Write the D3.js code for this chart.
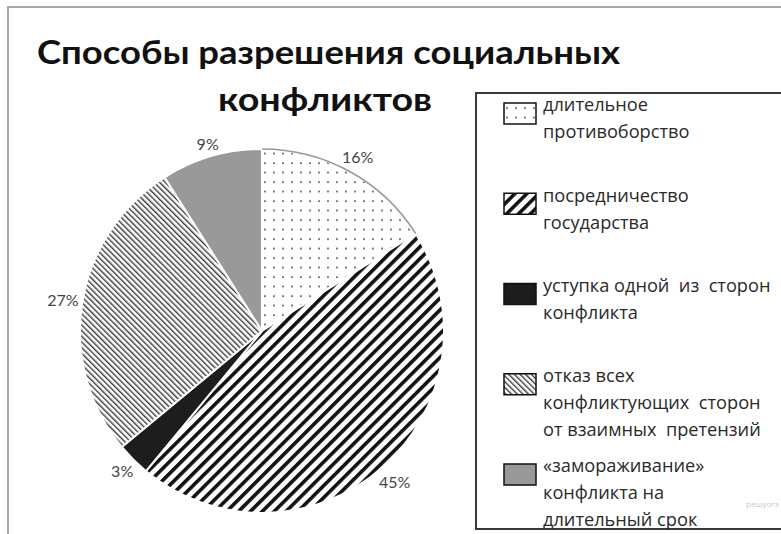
<!DOCTYPE html>
<html><head><meta charset="utf-8">
<script src="https://cdn.jsdelivr.net/npm/d3@7"></script>
<style>body{margin:0;background:#fff;overflow:hidden}</style>
</head><body>
<svg id="c" width="781" height="534"></svg>
<script>
// ---- data ----
const titleLines = ["Способы разрешения социальных", "конфликтов"];
const categories = [
  ["длительное", "противоборство"],
  ["посредничество", "государства"],
  ["уступка одной  из  сторон", "конфликта"],
  ["отказ всех", "конфликтующих  сторон", "от взаимных  претензий"],
  ["«замораживание»", "конфликта на", "длительный срок"]
];
const values = [16, 45, 3, 27, 9];
const valueLabels = ["16%", "45%", "3%", "27%", "9%"];
const watermark = "решуогэ";

// ---- drawing ----
const svg = d3.select("#c");
const defs = svg.append("defs");

// dotted pattern
const pDots = defs.append("pattern").attr("id", "dots").attr("patternUnits", "userSpaceOnUse")
  .attr("width", 9).attr("height", 9.5);
pDots.append("rect").attr("width", 9).attr("height", 9.5).attr("fill", "#fff");
pDots.append("circle").attr("cx", 3).attr("cy", 3).attr("r", 0.95).attr("fill", "#444");

// wide "/" hatch
const pWide = defs.append("pattern").attr("id", "wide").attr("patternUnits", "userSpaceOnUse")
  .attr("width", 8.4).attr("height", 8.4).attr("patternTransform", "rotate(45)");
pWide.append("rect").attr("width", 8.4).attr("height", 8.4).attr("fill", "#fff");
pWide.append("rect").attr("x", 0).attr("width", 3.6).attr("height", 8.4).attr("fill", "#111");

// fine "\" hatch
const pFine = defs.append("pattern").attr("id", "fine").attr("patternUnits", "userSpaceOnUse")
  .attr("width", 4).attr("height", 4).attr("patternTransform", "rotate(-45)");
pFine.append("rect").attr("width", 4).attr("height", 4).attr("fill", "#fff");
pFine.append("rect").attr("x", 0).attr("width", 1.4).attr("height", 4).attr("fill", "#3a3a3a");

const fills = ["url(#dots)", "url(#wide)", "#1d1d1d", "url(#fine)", "#999999"];

// outer frame
svg.append("path").attr("d", "M8,534 V7 H781").attr("fill", "none")
  .attr("stroke", "#a8a8a8").attr("stroke-width", 2);

// title
const tFont = "Lato, 'Open Sans', sans-serif";
svg.append("text").attr("x", 37).attr("y", 64)
  .attr("font-family", tFont).attr("font-weight", 700).attr("font-size", 33)
  .attr("textLength", 583).attr("lengthAdjust", "spacingAndGlyphs")
  .attr("fill", "#111").text(titleLines[0]);
svg.append("text").attr("x", 218).attr("y", 111)
  .attr("font-family", tFont).attr("font-weight", 700).attr("font-size", 33)
  .attr("textLength", 214).attr("lengthAdjust", "spacingAndGlyphs")
  .attr("fill", "#111").text(titleLines[1]);

// pie
const cx = 262, cy = 331, R = 182;
const pie = d3.pie().sort(null).value(d => d).startAngle(0).endAngle(2 * Math.PI);
const arcs = pie(values);
const arc = d3.arc().innerRadius(0).outerRadius(R);
const g = svg.append("g").attr("transform", `translate(${cx},${cy})`);
g.selectAll("path.slice").data(arcs).join("path").attr("class", "slice")
  .attr("d", arc).attr("fill", (d, i) => fills[i])
  .attr("stroke", "#fff").attr("stroke-width", 2).attr("stroke-linejoin", "round");
// gray rim on dotted slice
g.append("path").attr("d", d3.arc().innerRadius(R).outerRadius(R)(arcs[0]))
  .attr("fill", "none").attr("stroke", "#999").attr("stroke-width", 1.5);

// value labels (outside end)
const lblFont = "Lato, 'Open Sans', sans-serif";
const lbls = g.selectAll("text.lbl").data(arcs).join("text").attr("class", "lbl")
  .attr("font-family", lblFont).attr("font-size", 16).attr("fill", "#444")
  .attr("text-anchor", "middle").attr("dominant-baseline", "central")
  .text((d, i) => valueLabels[i]);
lbls.each(function (d) {
  const a = (d.startAngle + d.endAngle) / 2;
  const w = this.getComputedTextLength(), h = 14;
  const off = Math.abs(Math.sin(a)) * w / 2 + Math.abs(Math.cos(a)) * h / 2 + 3;
  const r = R + off;
  d3.select(this).attr("x", r * Math.sin(a)).attr("y", -r * Math.cos(a));
});

// legend
svg.append("rect").attr("x", 476).attr("y", 93).attr("width", 330).attr("height", 436)
  .attr("fill", "#fff").attr("stroke", "#3a3a3a").attr("stroke-width", 2);
const ly = d3.scalePoint().domain(d3.range(categories.length)).range([105, 466]);
const lgFont = "'Open Sans', 'DejaVu Sans', sans-serif";
const lg = svg.selectAll("g.leg").data(categories).join("g").attr("class", "leg")
  .attr("transform", (d, i) => `translate(0,${ly(i)})`);
lg.append("rect").attr("x", 504).attr("y", -2).attr("width", 32).attr("height", 21)
  .attr("fill", (d, i) => fills[i]).attr("stroke", "#111").attr("stroke-width", 1.5);
lg.each(function (lines) {
  const t = d3.select(this).append("text").attr("font-family", lgFont)
    .attr("font-size", 18.2).attr("fill", "#2a2a2a").attr("xml:space", "preserve");
  lines.forEach((s, k) => {
    t.append("tspan").attr("x", 543).attr("y", k * 27).attr("dy", "0.35em").text(s);
  });
});

svg.append("text").attr("x", 746).attr("y", 507).attr("font-family", lgFont)
  .attr("font-size", 8).attr("fill", "#c8c8c8").text(watermark);
</script>
</body></html>
